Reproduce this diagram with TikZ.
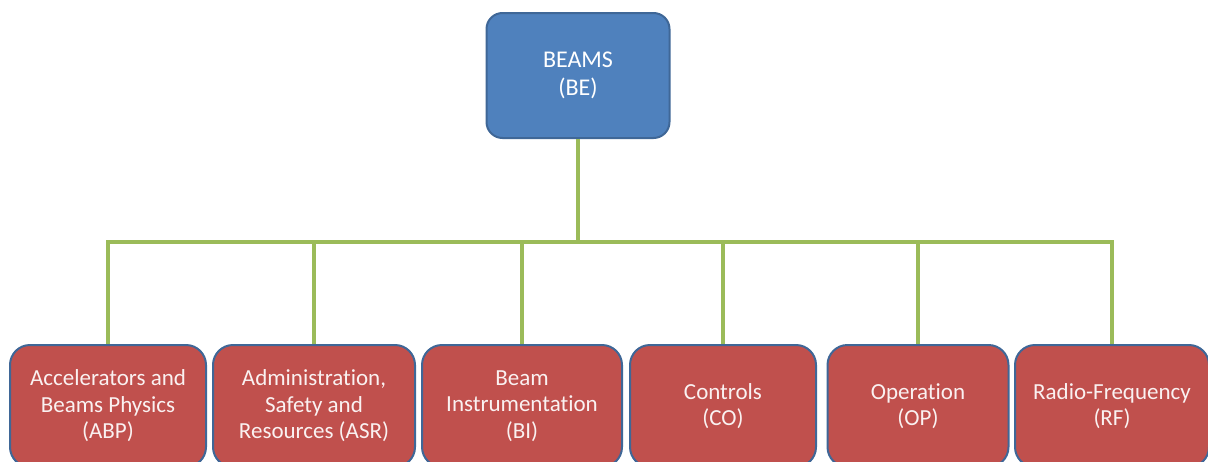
\documentclass[tikz,border=0pt]{standalone}
\usepackage{fontspec}
\setmainfont{Carlito}[RawFeature=-liga]
\definecolor{beblue}{HTML}{4F81BD}
\definecolor{bered}{HTML}{C0504D}
\definecolor{beline}{HTML}{3F6797}
\definecolor{begreen}{HTML}{9BBB59}
\tikzset{
  headbox/.style={draw=beline, fill=beblue, line width=2pt, rounded corners=16pt,
    text=white, align=center, minimum height=125pt, inner sep=0pt,
    font=\fontsize{24}{28}\selectfont},
  unitbox/.style={draw=beline, fill=bered, line width=2pt, rounded corners=20pt,
    text=white!92!bered, align=center, minimum height=122pt, inner sep=0pt,
    font=\fontsize{23}{26.5}\selectfont},
  link/.style={draw=begreen, line width=4pt}
}
\begin{document}
\begin{tikzpicture}[x=1pt,y=-1pt]
\useasboundingbox (0,0) rectangle (1208,461);
\node[headbox, minimum width=183pt] (be) at (578,75.5) {BEAMS\\(BE)};
\node[unitbox, minimum width=196pt] (abp) at (108,406) {Accelerators and\\Beams Physics\\(ABP)};
\node[unitbox, minimum width=202pt] (asr) at (314,406) {Administration,\\Safety and\\Resources (ASR)};
\node[unitbox, minimum width=200pt] (bi) at (522,406) {Beam\\Instrumentation\\(BI)};
\node[unitbox, minimum width=186pt] (co) at (723,406) {Controls\\(CO)};
\node[unitbox, minimum width=181pt] (op) at (918,406) {Operation\\(OP)};
\node[unitbox, minimum width=194pt] (rf) at (1112,406) {Radio-Frequency\\(RF)};
\coordinate (bar) at (578,242);
% tree connectors
\draw[link] (be.south) -- (bar);
\draw[link] (abp.north) -- (abp.north |- bar) -- (rf.north |- bar) -- (rf.north);
\draw[link] (asr.north) -- (asr.north |- bar);
\draw[link] (bi.north) -- (bi.north |- bar);
\draw[link] (co.north) -- (co.north |- bar);
\draw[link] (op.north) -- (op.north |- bar);
\end{tikzpicture}
\end{document}
